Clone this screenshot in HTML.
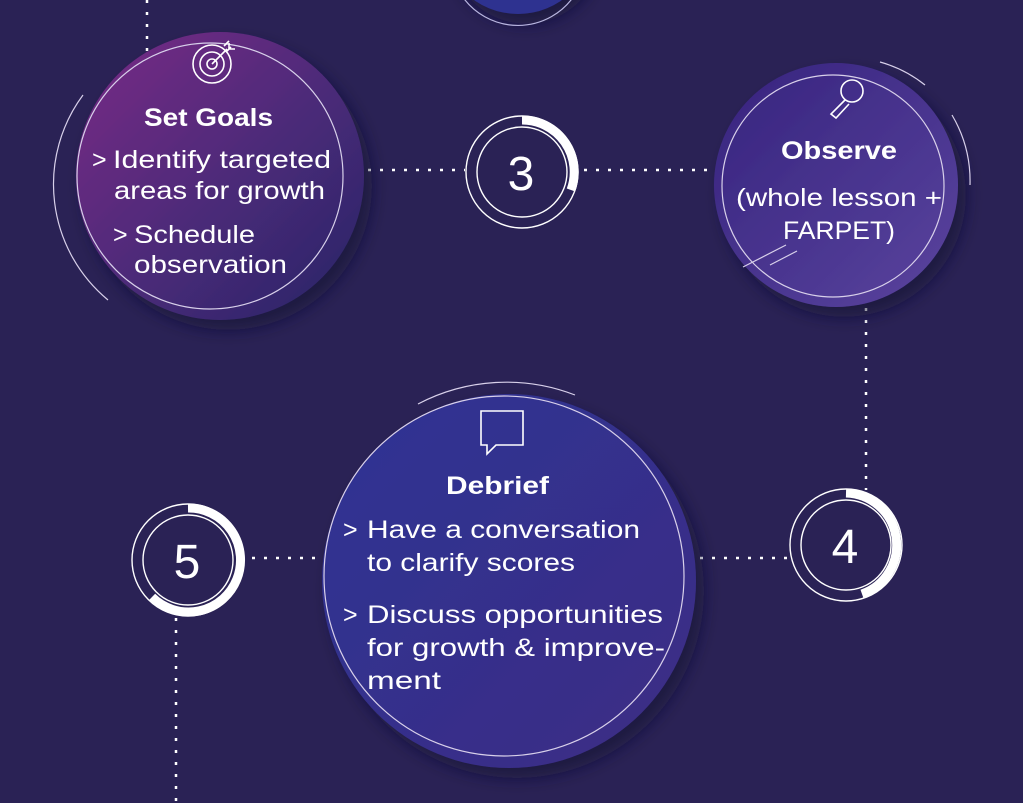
<!DOCTYPE html>
<html><head><meta charset="utf-8"><style>
html,body{margin:0;padding:0;background:#2a2255;}
svg{display:block;font-family:"Liberation Sans",sans-serif;}
</style></head><body>
<svg width="1023" height="803" viewBox="0 0 1023 803">
<defs>
<linearGradient id="g1" x1="0" y1="0" x2="1" y2="1"><stop offset="0" stop-color="#7a2a86"/><stop offset="0.55" stop-color="#4a2a78"/><stop offset="1" stop-color="#262566"/></linearGradient>
<linearGradient id="g2" x1="0" y1="0" x2="1" y2="1"><stop offset="0" stop-color="#36237e"/><stop offset="1" stop-color="#5a449e"/></linearGradient>
<linearGradient id="g3" x1="0" y1="0" x2="1" y2="1"><stop offset="0" stop-color="#2d3394"/><stop offset="1" stop-color="#3d2c84"/></linearGradient>
<filter id="sh" x="-20%" y="-20%" width="140%" height="140%"><feDropShadow dx="8" dy="10" stdDeviation="8" flood-color="#120c30" flood-opacity="0.6"/></filter>
</defs>
<rect width="1023" height="803" fill="#2a2255"/>
<g stroke="#fff" stroke-width="2.5" stroke-dasharray="3 9" fill="none">
<line x1="147" y1="0" x2="147" y2="52"/>
<line x1="368" y1="170" x2="465" y2="170"/>
<line x1="584" y1="170" x2="712" y2="170"/>
<line x1="866" y1="308" x2="866" y2="490"/>
<line x1="252" y1="558" x2="320" y2="558"/>
<line x1="700" y1="558" x2="790" y2="558"/>
<line x1="176" y1="618" x2="176" y2="803"/>
</g>
<circle cx="518" cy="-62" r="76" fill="#2e3290" filter="url(#sh)"/>
<path d="M462 -4 A68 68 0 0 0 574 -4" stroke="#b9b6e0" stroke-width="1.2" fill="none"/>
<!-- Set Goals -->
<circle cx="220" cy="176" r="144" fill="url(#g1)" filter="url(#sh)"/>
<circle cx="210" cy="176" r="133" fill="none" stroke="#d8d0ea" stroke-width="1.2"/>
<path d="M83 95 A150 150 0 0 0 108 300" stroke="#d8d0ea" stroke-width="1.2" fill="none"/>
<g stroke="#fff" stroke-width="1.6" fill="none"><circle cx="212" cy="64" r="19"/><circle cx="212" cy="64" r="12"/><circle cx="212" cy="64" r="5"/><line x1="212" y1="64" x2="227" y2="49"/><path d="M224 46 l5 -5 M226 52 l5 -5 M229 43 v6 h6"/></g>
<g fill="#fff" font-size="25" lengthAdjust="spacingAndGlyphs">
<text x="144" y="126" font-weight="bold" textLength="129" lengthAdjust="spacingAndGlyphs">Set Goals</text>
<text x="92" y="168">&gt;</text><text x="113" y="168" textLength="218" lengthAdjust="spacingAndGlyphs">Identify targeted</text>
<text x="114" y="199" textLength="211" lengthAdjust="spacingAndGlyphs">areas for growth</text>
<text x="113" y="243">&gt;</text><text x="134" y="243" textLength="121" lengthAdjust="spacingAndGlyphs">Schedule</text>
<text x="134" y="273" textLength="153" lengthAdjust="spacingAndGlyphs">observation</text>
</g>
<!-- Observe -->
<circle cx="836" cy="185" r="122" fill="url(#g2)" filter="url(#sh)"/>
<circle cx="833" cy="186" r="111" fill="none" stroke="#d8d0ea" stroke-width="1.2"/>
<path d="M880 62 A125 125 0 0 1 925 85 M952 115 A130 130 0 0 1 970 185" stroke="#d8d0ea" stroke-width="1.2" fill="none"/>
<path d="M743 267 L786 245 M770 265 L797 251" stroke="#d8d0ea" stroke-width="1.2"/>
<g stroke="#fff" stroke-width="1.6" fill="none"><circle cx="852" cy="91" r="11"/><path d="M845 100 L831 114 L836 118 L849 104"/></g>
<g fill="#fff" font-size="25">
<text x="781" y="159" font-weight="bold" textLength="116" lengthAdjust="spacingAndGlyphs">Observe</text>
<text x="736" y="206" textLength="206" lengthAdjust="spacingAndGlyphs">(whole lesson +</text>
<text x="783" y="239" textLength="112" lengthAdjust="spacingAndGlyphs">FARPET)</text>
</g>
<!-- Debrief -->
<circle cx="509" cy="581" r="187" fill="url(#g3)" filter="url(#sh)"/>
<circle cx="504" cy="576" r="180" fill="none" stroke="#d8d0ea" stroke-width="1.2"/>
<path d="M418 404 A190 190 0 0 1 575 395" stroke="#d8d0ea" stroke-width="1.2" fill="none"/>
<g stroke="#fff" stroke-width="1.6" fill="none"><path d="M481 411 h42 v34 h-27 l-9 9 v-9 h-6 z"/></g>
<g fill="#fff" font-size="25">
<text x="446" y="494" font-weight="bold" textLength="103" lengthAdjust="spacingAndGlyphs">Debrief</text>
<text x="343" y="538">&gt;</text><text x="367" y="538" textLength="273" lengthAdjust="spacingAndGlyphs">Have a conversation</text>
<text x="367" y="571" textLength="208" lengthAdjust="spacingAndGlyphs">to clarify scores</text>
<text x="343" y="623">&gt;</text><text x="367" y="623" textLength="296" lengthAdjust="spacingAndGlyphs">Discuss opportunities</text>
<text x="367" y="656" textLength="298" lengthAdjust="spacingAndGlyphs">for growth &amp; improve-</text>
<text x="367" y="689" textLength="74" lengthAdjust="spacingAndGlyphs">ment</text>
</g>
<g fill="none" stroke="#fff">
<circle cx="522" cy="172" r="56" stroke-width="1.4"/>
<circle cx="522" cy="172" r="45" stroke-width="1.4"/>
<path d="M522 120 A52 52 0 0 1 571 190" stroke-width="9"/>
<circle cx="846" cy="545" r="56" stroke-width="1.4"/>
<circle cx="846" cy="545" r="45" stroke-width="1.4"/>
<path d="M846 493 A52 52 0 0 1 862 594" stroke-width="9"/>
<circle cx="188" cy="560" r="56" stroke-width="1.4"/>
<circle cx="188" cy="560" r="45" stroke-width="1.4"/>
<path d="M188 508 A52 52 0 1 1 152 597" stroke-width="9"/>
</g>
<g fill="#fff" font-size="48" text-anchor="middle">
<text x="521" y="190">3</text>
<text x="845" y="563">4</text>
<text x="187" y="578">5</text>
</g>
</svg>
</body></html>
